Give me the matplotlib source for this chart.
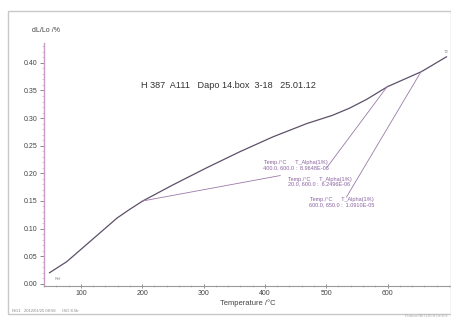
import matplotlib
matplotlib.use("Agg")
import matplotlib.pyplot as plt
from matplotlib.ticker import MultipleLocator
from matplotlib.patches import Rectangle

# ---- data ----
temperature = [49, 77, 103, 131, 159, 180, 201, 250, 305, 359, 413, 468, 510, 538, 566, 600, 655, 696]
dl_lo = [0.020, 0.040, 0.065, 0.092, 0.119, 0.135, 0.150, 0.179, 0.210, 0.239, 0.266, 0.290,
         0.305, 0.318, 0.334, 0.357, 0.384, 0.411]

# leader lines (label anchor -> point on curve)
lead_T = [[201, 425], [502, 600], [533, 655]]
lead_v = [[0.150, 0.196], [0.212, 0.358], [0.157, 0.385]]

# evaluation labels (anchor temperature, value, text)
lab_T = [450, 489, 525]
lab_v = [0.215, 0.185, 0.148]
lab_text = ["Temp./°C      T_Alpha(1/K)\n400.0, 600.0 :  8.9648E-06",
            "Temp./°C      T_Alpha(1/K)\n20.0, 600.0 :  6.2496E-06",
            "Temp./°C      T_Alpha(1/K)\n600.0, 650.0 :  1.0910E-05"]

title_text = "H 387  A111   Dapo 14.box  3-18   25.01.12"
x_label = "Temperature /°C"
y_label = "dL/Lo /%"

plt.rcParams['font.family'] = ['Liberation Sans', 'DejaVu Sans']

fig = plt.figure(figsize=(4.52, 3.18), dpi=100)
W, H = 452, 318

# outer frame of the screenshot
fig.patches.append(Rectangle((8 / W, 4 / H), (451 - 8) / W, (307 - 4) / H,
                             transform=fig.transFigure, fill=False,
                             edgecolor="#c8c8c8", lw=1.0))

ax = fig.add_axes([44 / W, (318 - 286) / H, (452 - 44) / W, (286 - 43) / H])
ax.set_xlim(40, 705)
ax.set_ylim(-0.004, 0.436)

ax.plot(temperature, dl_lo, color="#5d5068", lw=0.9)

for tx, vy in zip(lead_T, lead_v):
    ax.plot(tx, vy, color="#9b7aa8", lw=0.6)

for tx, vy, s in zip(lab_T, lab_v, lab_text):
    ax.text(tx, vy, s, fontsize=4.0, color="#8a62a0", ha="center", va="center",
            linespacing=1.0)

ax.text(0.453, 0.827, title_text, transform=ax.transAxes, fontsize=6.6,
        color="#333333", ha="center", va="center")

ax.text(57, 0.006, "Ref", fontsize=2.8, color="#888888")
ax.text(700, 0.417, "T2", fontsize=3.0, color="#888888", ha="right")

for s in ["top", "right"]:
    ax.spines[s].set_visible(False)
ax.spines["left"].set_color("#c79ac9")
ax.spines["left"].set_linewidth(1.0)
ax.spines["bottom"].set_color("#9a9a9a")
ax.spines["bottom"].set_linewidth(0.8)

ax.xaxis.set_minor_locator(MultipleLocator(20))
ax.yaxis.set_minor_locator(MultipleLocator(0.01))
ax.set_xticks([100, 200, 300, 400, 500, 600])
ax.set_xticklabels(["100", "200", "300", "400", "500", "600"])
ax.set_yticks([0.00, 0.05, 0.10, 0.15, 0.20, 0.25, 0.30, 0.35, 0.40])
ax.set_yticklabels(["0.00", "0.05", "0.10", "0.15", "0.20", "0.25", "0.30", "0.35", "0.40"])
ax.tick_params(axis="both", which="major", labelsize=5, colors="#777777",
               labelcolor="#444444", length=3, width=0.6, pad=1.5)
ax.tick_params(axis="both", which="minor", colors="#aaaaaa", length=1.2, width=0.4)
ax.tick_params(axis="x", which="both", direction="inout")

ax.set_xlabel(x_label, fontsize=5.5, color="#444444", labelpad=1.5)
fig.text(46 / W, 1 - 30 / H, y_label, fontsize=5, color="#444444", ha="center", va="center")

fig.text(12 / W, 1 - 311 / H, "NG1   2012/01/25 08:58      ISO 8.5b", fontsize=3,
         color="#888888", va="center")
fig.text(448 / W, 1 - 316 / H, "Proteus NETZSCH Dil 402", fontsize=2.6,
         color="#aaaaaa", ha="right", va="center")

fig.savefig("out.png", dpi=100)
